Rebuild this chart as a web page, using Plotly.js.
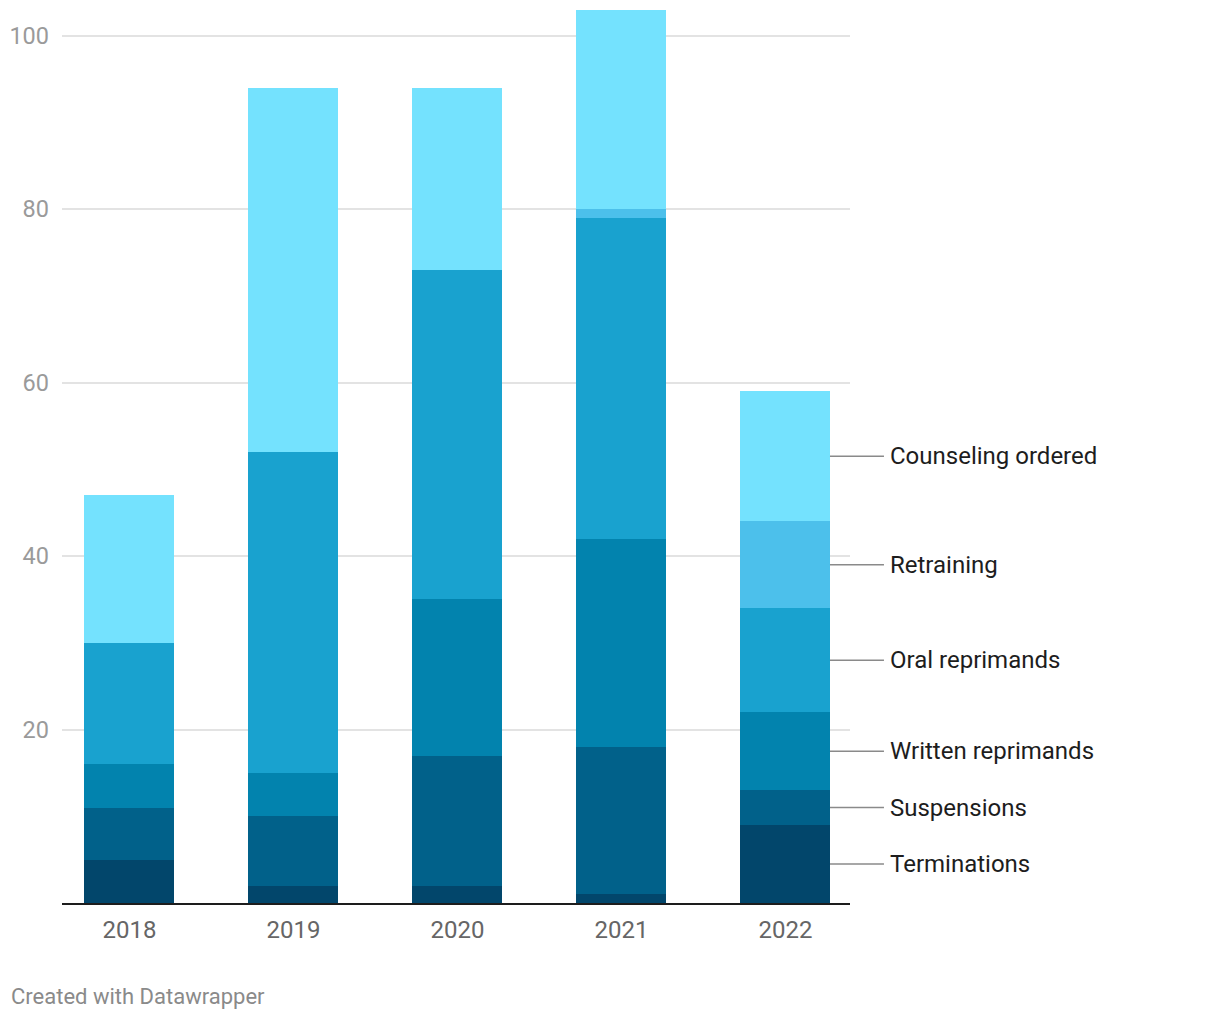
<!DOCTYPE html>
<html>
<head>
<meta charset="utf-8">
<script src="https://cdn.plot.ly/plotly-3.0.1.min.js"></script>
<style>
html,body{margin:0;padding:0;background:#fff;}
#chart{width:1220px;height:1020px;}
</style>
</head>
<body>
<div id="chart"></div>
<script>
var years = ["2018", "2019", "2020", "2021", "2022"];
var terminations = [5, 2, 2, 1, 9];
var suspensions = [6, 8, 15, 17, 4];
var writtenReprimands = [5, 5, 18, 24, 9];
var oralReprimands = [14, 37, 38, 37, 12];
var retraining = [0, 0, 0, 1, 10];
var counselingOrdered = [17, 42, 21, 23, 15];
var seriesNames = ["Terminations", "Suspensions", "Written reprimands", "Oral reprimands", "Retraining", "Counseling ordered"];
var yTicks = [0, 20, 40, 60, 80, 100];

var seriesValues = [terminations, suspensions, writtenReprimands, oralReprimands, retraining, counselingOrdered];
var colors = ["#02466b", "#01618a", "#0283ae", "#19a2cf", "#4cc0eb", "#74e2fe"];

var traces = seriesValues.map(function (vals, i) {
  return {
    type: "bar",
    x: years,
    y: vals,
    name: seriesNames[i],
    marker: {color: colors[i], line: {width: 0}},
    hoverinfo: "x+y+name"
  };
});

// direct labels at the last bar's segment midpoints
var last = years.length - 1;
var shapes = [];
var annotations = [];
var cum = 0;
seriesValues.forEach(function (vals, i) {
  var v = vals[last];
  var mid = cum + v / 2;
  cum += v;
  shapes.push({
    type: "line", xref: "paper", yref: "y",
    x0: 0.9746, x1: 1.0431, y0: mid, y1: mid,
    line: {color: "#8a8a8a", width: 1.5}
  });
  annotations.push({
    xref: "paper", yref: "y", x: 1.0485, y: mid,
    xanchor: "left", yanchor: "middle", showarrow: false,
    text: seriesNames[i],
    font: {family: "Roboto, sans-serif", size: 24, color: "#1d1d1d"}
  });
});
annotations.push({
  xref: "paper", yref: "paper", x: -0.067, y: -0.1035,
  xanchor: "left", yanchor: "middle", showarrow: false,
  text: "Created with Datawrapper",
  font: {family: "Roboto, sans-serif", size: 22, color: "#8a8a8a"}
});

var layout = {
  width: 1220, height: 1020,
  margin: {l: 62, r: 370, t: 1, b: 117, pad: 0},
  paper_bgcolor: "#fff", plot_bgcolor: "#fff",
  barmode: "stack",
  bargap: 0.451,
  showlegend: false,
  font: {family: "Roboto, sans-serif"},
  xaxis: {
    type: "category",
    range: [-0.411, 4.394],
    showgrid: false,
    showline: true, linecolor: "#1d1d1d", linewidth: 2,
    ticks: "",
    ticklabelstandoff: 4,
    tickfont: {family: "Roboto, sans-serif", size: 24, color: "#666"},
    fixedrange: true
  },
  yaxis: {
    range: [0, 104],
    tickvals: yTicks,
    ticktext: yTicks.map(function (t) { return t === 0 ? "" : String(t); }),
    showgrid: true, gridcolor: "#e3e3e3", gridwidth: 2,
    zeroline: false, showline: false,
    ticks: "",
    ticklabelstandoff: 12,
    tickfont: {family: "Roboto, sans-serif", size: 23.5, color: "#9a9a9a"},
    fixedrange: true
  },
  shapes: shapes,
  annotations: annotations
};

Plotly.newPlot("chart", traces, layout, {displayModeBar: false, staticPlot: true});
</script>
</body>
</html>
